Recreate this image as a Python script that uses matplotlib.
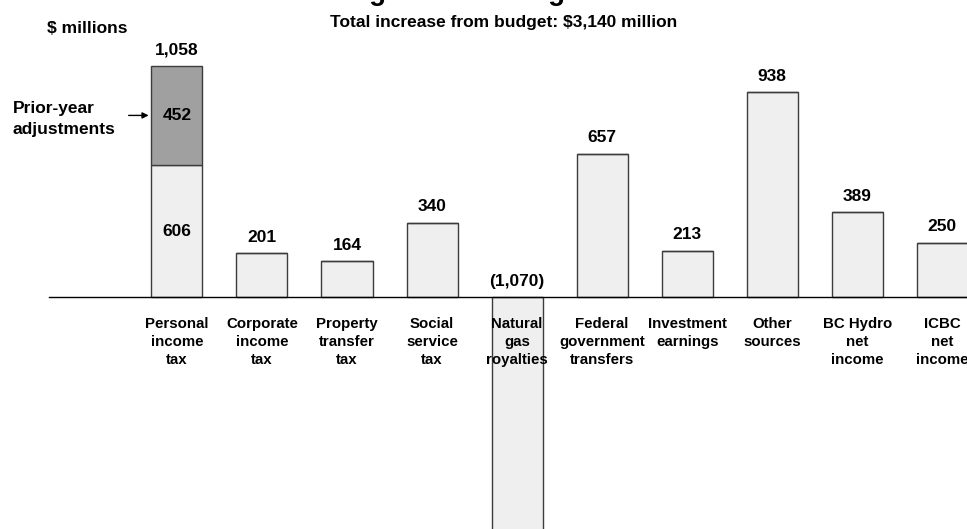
import matplotlib.pyplot as plt

plt.rcParams['font.family'] = ['Liberation Sans', 'DejaVu Sans']

categories = ['Personal\nincome\ntax', 'Corporate\nincome\ntax', 'Property\ntransfer\ntax',
              'Social\nservice\ntax', 'Natural\ngas\nroyalties', 'Federal\ngovernment\ntransfers',
              'Investment\nearnings', 'Other\nsources', 'BC Hydro\nnet\nincome', 'ICBC\nnet\nincome']
changes = [606, 201, 164, 340, -1070, 657, 213, 938, 389, 250]
prior_year = [452, 0, 0, 0, 0, 0, 0, 0, 0, 0]
total_increase = 3140

light = '#efefef'
dark = '#a0a0a0'
edge = '#3c3c3c'

fig = plt.figure(figsize=(9.67, 5.29), dpi=100)
ax = fig.add_axes([0, 0, 1, 1])
ax.set_xlim(-2.08, 9.29)
ax.set_ylim(-1060, 1360)
ax.axis('off')

x = list(range(len(categories)))
w = 0.6
ax.bar(x, changes, width=w, color=light, edgecolor=edge, linewidth=1, zorder=2)
ax.bar(x, prior_year, width=w, bottom=changes, color=dark, edgecolor=edge, linewidth=1, zorder=2)
ax.plot([-1.5, 9.29], [0, 0], color='black', linewidth=1, zorder=3)

lab = dict(ha='center', fontsize=12.5, fontweight='bold', zorder=4)
for i, (v, p) in enumerate(zip(changes, prior_year)):
    if p:
        total = v + p
        ax.text(i, total + 40, f'{total:,}', va='bottom', **lab)
        ax.text(i, v / 2, f'{v:,}', va='center', **lab)
        ax.text(i, v + p / 2, f'{p:,}', va='center', **lab)
    elif v >= 0:
        ax.text(i, v + 40, f'{v:,}', va='bottom', **lab)
    else:
        ax.text(i, 40, f'({-v:,})', va='bottom', **lab)
    ax.text(i, -92, categories[i], ha='center', va='top', fontsize=10.8, fontweight='bold',
            linespacing=1.33, zorder=4)

# arrow pointing at the prior-year slice
ay = changes[0] + prior_year[0] * 0.5
ax.annotate('', xy=(-0.3, ay), xytext=(-0.6, ay),
            arrowprops=dict(arrowstyle='-|>', color='black', lw=1, mutation_scale=9))
fig.text(0.013, 0.775, 'Prior-year\nadjustments', ha='left', va='center', fontsize=12.5,
         fontweight='bold', linespacing=1.5)

fig.text(0.049, 0.947, '$ millions', ha='left', va='center', fontsize=12.5, fontweight='bold')
fig.text(0.521, 0.957, f'Total increase from budget: ${total_increase:,} million', ha='center',
         va='center', fontsize=12.5, fontweight='bold')
# chart title sits just above the top edge
fig.text(0.052, 1.0, 'Chart 1.1 Revenue Changes from Budget', ha='left', va='baseline',
         fontsize=20, fontweight='bold', color='black')

fig.savefig('out.png', dpi=100)
